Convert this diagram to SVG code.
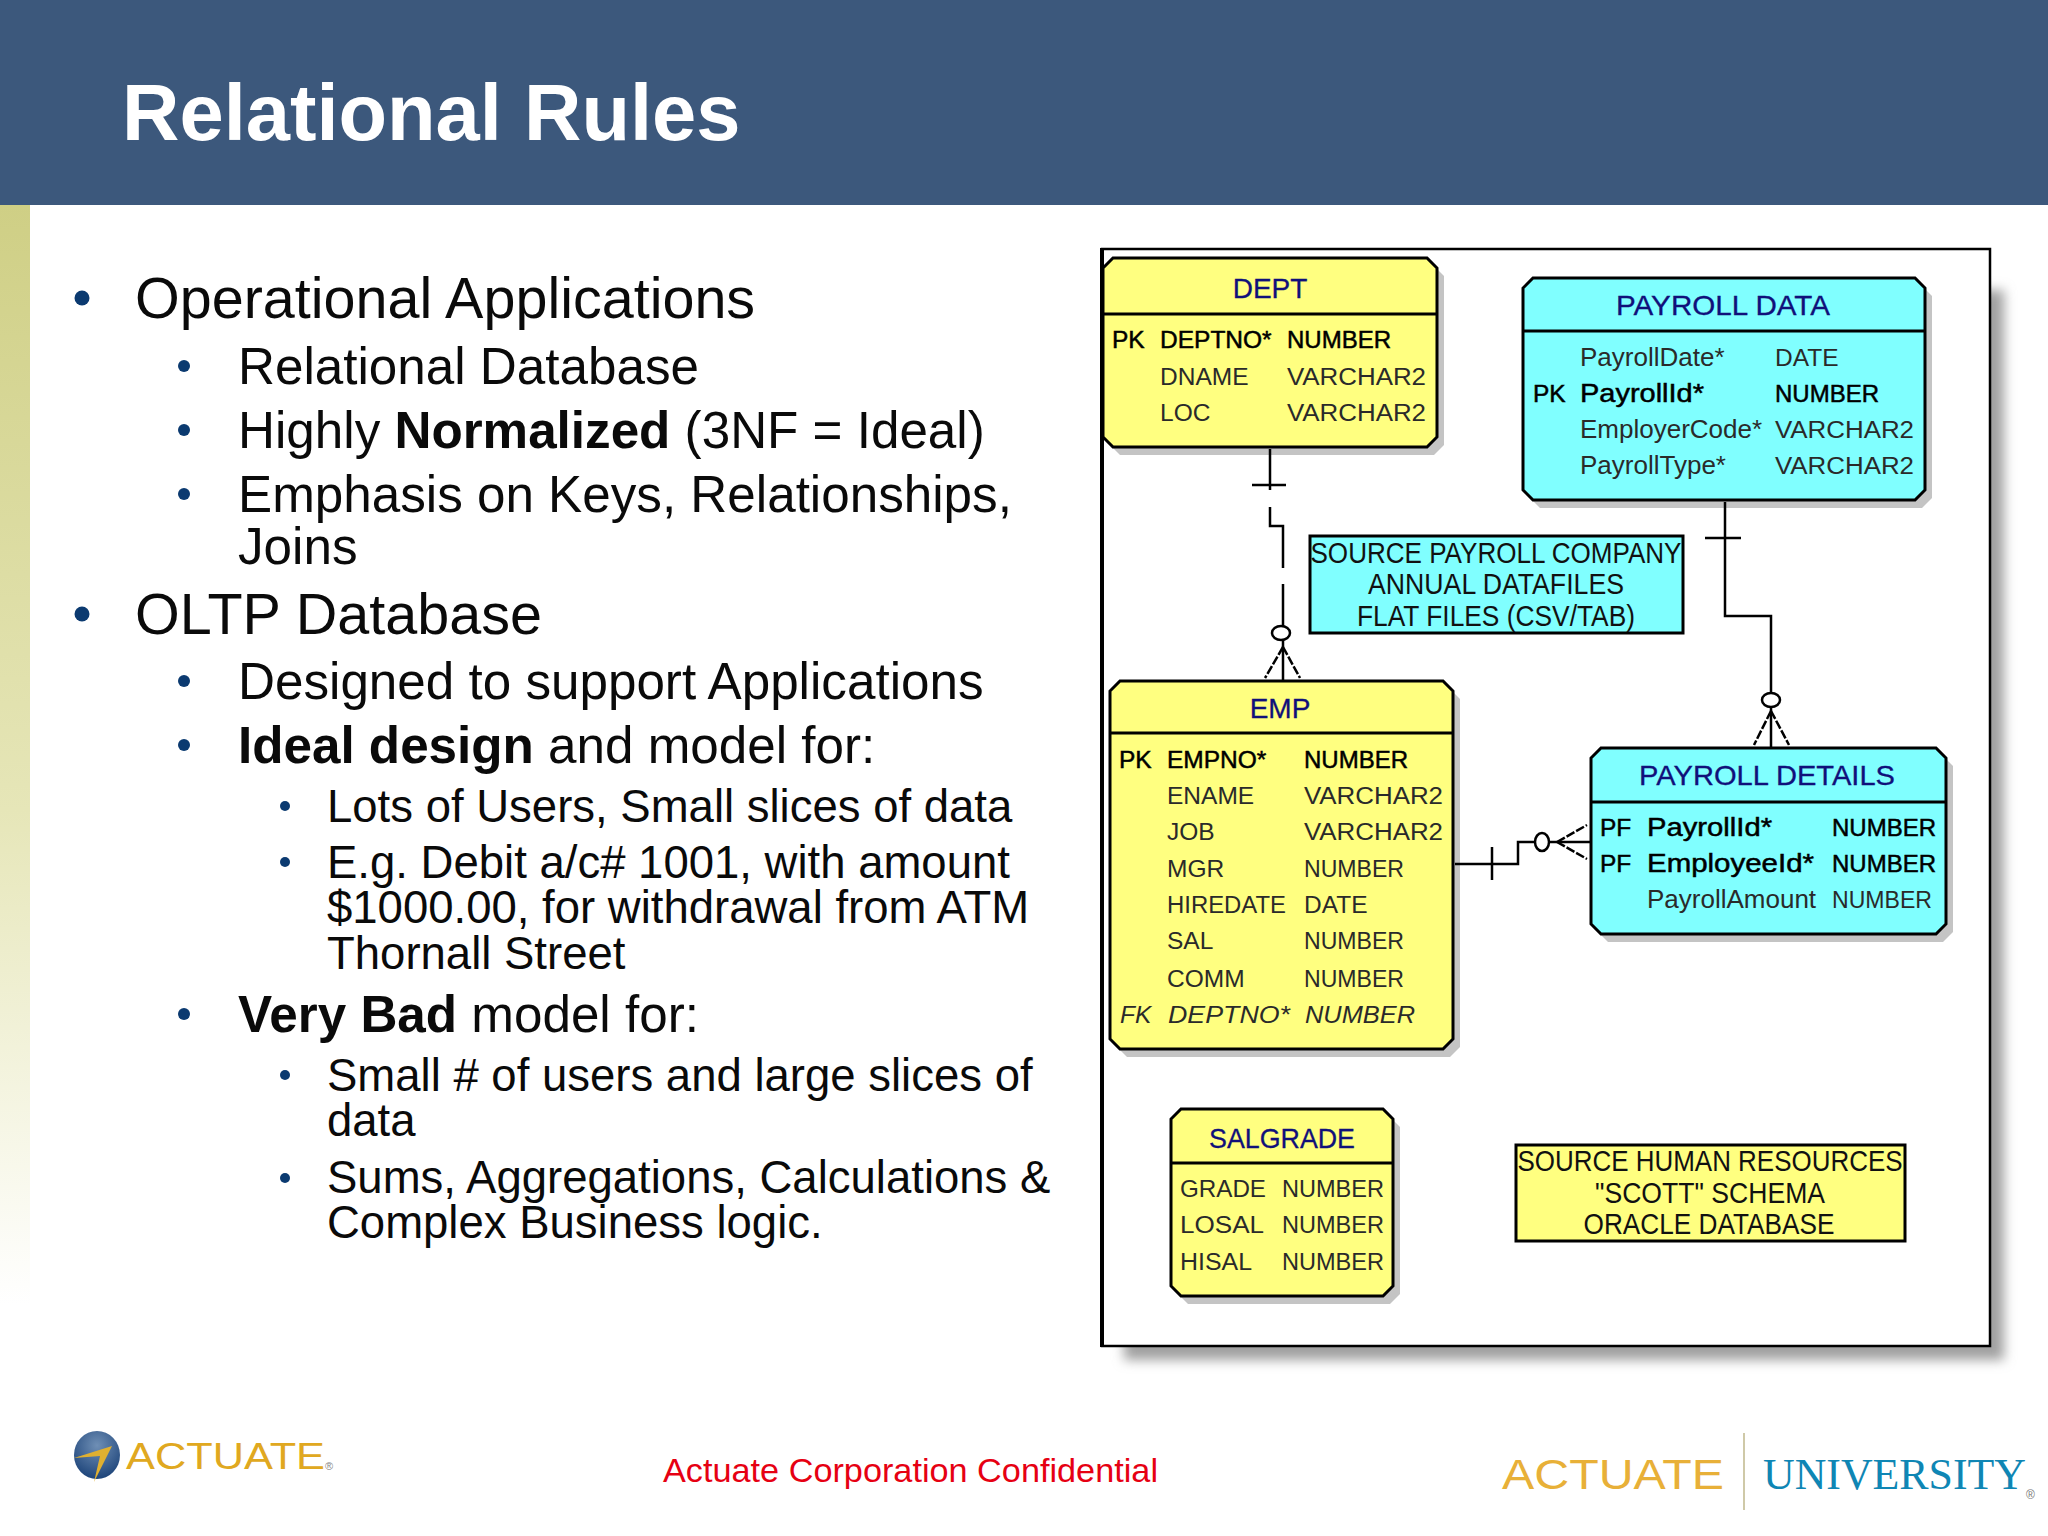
<svg xmlns="http://www.w3.org/2000/svg" width="2048" height="1536" viewBox="0 0 2048 1536">
<defs>
<linearGradient id="strip" x1="0" y1="0" x2="0" y2="1"><stop offset="0" stop-color="#cfcf85"/><stop offset=".55" stop-color="#e6e6b8"/><stop offset="1" stop-color="#ffffff"/></linearGradient>
<filter id="blur" x="-5%" y="-5%" width="110%" height="110%"><feGaussianBlur stdDeviation="6"/></filter>
<radialGradient id="globe" cx=".5" cy=".3" r=".8"><stop offset="0" stop-color="#6f8fb5"/><stop offset="1" stop-color="#123a72"/></radialGradient>
</defs>
<style>
text{font-family:"Liberation Sans",Arial,sans-serif}
.l1{font-size:57.5px;fill:#0a0a0a}
.l2{font-size:51.2px;fill:#0a0a0a}
.l3{font-size:45.5px;fill:#0a0a0a}
.bu{fill:#0b3a70}
.sh{fill:#c4c4c4}
.y{fill:#ffff80;stroke:#000;stroke-width:3}
.c{fill:#80ffff;stroke:#000;stroke-width:3}
.hd{stroke:#000;stroke-width:3}
.t{font-size:28px;fill:#10107a;text-anchor:middle;stroke:#10107a;stroke-width:.3}
.r{font-size:26px;fill:#2a2a2a}
.u{font-size:24.5px;fill:#2a2a2a}
.b{font-size:26px;fill:#000;stroke:#000;stroke-width:.5}
.bu2{font-size:24.5px;fill:#000;stroke:#000;stroke-width:.5}
.i{font-size:24.5px;fill:#2a2a2a;font-style:italic}
.n{font-size:29px;fill:#111;text-anchor:middle}
.ln{fill:none;stroke:#000;stroke-width:2.5}
.ci{fill:#fff;stroke:#000;stroke-width:2.5}
.ft{stroke-dasharray:9 2}
</style>
<rect width="2048" height="1536" fill="#fff"/>
<rect id="strip-bar" x="0" y="205" width="30" height="1100" fill="url(#strip)"/>
<g id="header"><rect width="2048" height="205" fill="#3c587c"/><text x="122" y="140" font-size="79.5" font-weight="bold" fill="#fff">Relational Rules</text></g>
<g id="bullets">
<circle class="bu" cx="82" cy="298" r="7.5"/><text class="l1" x="135" y="318">Operational Applications</text>
<circle class="bu" cx="184" cy="366" r="6"/><text class="l2" x="238" y="384">Relational Database</text>
<circle class="bu" cx="184" cy="430" r="6"/><text class="l2" x="238" y="448">Highly <tspan font-weight="bold">Normalized</tspan> (3NF = Ideal)</text>
<circle class="bu" cx="184" cy="494" r="6"/><text class="l2" x="238" y="512">Emphasis on Keys, Relationships,</text><text class="l2" x="238" y="564">Joins</text>
<circle class="bu" cx="82" cy="614" r="7.5"/><text class="l1" x="135" y="634">OLTP Database</text>
<circle class="bu" cx="184" cy="681" r="6"/><text class="l2" x="238" y="699">Designed to support Applications</text>
<circle class="bu" cx="184" cy="745" r="6"/><text class="l2" x="238" y="763"><tspan font-weight="bold">Ideal design</tspan> and model for:</text>
<circle class="bu" cx="285" cy="806" r="5"/><text class="l3" x="327" y="822">Lots of Users, Small slices of data</text>
<circle class="bu" cx="285" cy="862" r="5"/><text class="l3" x="327" y="878">E.g. Debit a/c# 1001, with amount</text><text class="l3" x="327" y="923">$1000.00, for withdrawal from ATM</text><text class="l3" x="327" y="969">Thornall Street</text>
<circle class="bu" cx="184" cy="1014" r="6"/><text class="l2" x="238" y="1032"><tspan font-weight="bold">Very Bad</tspan> model for:</text>
<circle class="bu" cx="285" cy="1075" r="5"/><text class="l3" x="327" y="1091">Small # of users and large slices of</text><text class="l3" x="327" y="1136">data</text>
<circle class="bu" cx="285" cy="1178" r="5"/><text class="l3" x="327" y="1193">Sums, Aggregations, Calculations &amp;</text><text class="l3" x="327" y="1238">Complex Business logic.</text>
</g>
<g id="frame">
<rect x="1124" y="290" width="880" height="1070" fill="#a0a0a0" filter="url(#blur)"/>
<rect x="1102" y="249" width="888" height="1097" fill="#fff" stroke="#000" stroke-width="2.5"/>
<rect x="1100" y="248" width="4" height="1099" fill="#000"/>
</g>
<g id="dept">
<polygon class="sh" transform="translate(7,8)" points="1113,258 1427,258 1437,268 1437,437 1427,447 1113,447 1103,437 1103,268"/>
<polygon class="y" points="1113,258 1427,258 1437,268 1437,437 1427,447 1113,447 1103,437 1103,268"/>
<path class="hd" d="M1103 314H1437"/>
<text class="t" x="1270" y="298">DEPT</text>
<text class="bu2" x="1112" y="348">PK</text><text class="bu2" x="1160" y="348">DEPTNO*</text><text class="bu2" x="1287" y="348" textLength="104" lengthAdjust="spacingAndGlyphs">NUMBER</text>
<text class="u" x="1160" y="385">DNAME</text><text class="u" x="1287" y="385" textLength="139" lengthAdjust="spacingAndGlyphs">VARCHAR2</text>
<text class="u" x="1160" y="421">LOC</text><text class="u" x="1287" y="421" textLength="139" lengthAdjust="spacingAndGlyphs">VARCHAR2</text>
</g>
<g id="payroll-data">
<polygon class="sh" transform="translate(7,8)" points="1533,278 1915,278 1925,288 1925,490 1915,500 1533,500 1523,490 1523,288"/>
<polygon class="c" points="1533,278 1915,278 1925,288 1925,490 1915,500 1533,500 1523,490 1523,288"/>
<path class="hd" d="M1523 331H1925"/>
<text class="t" x="1723" y="315" textLength="214" lengthAdjust="spacingAndGlyphs">PAYROLL DATA</text>
<text class="r" x="1580" y="366">PayrollDate*</text><text class="u" x="1775" y="366">DATE</text>
<text class="bu2" x="1533" y="402">PK</text><text class="b" x="1580" y="402" textLength="124" lengthAdjust="spacingAndGlyphs">PayrollId*</text><text class="bu2" x="1775" y="402" textLength="104" lengthAdjust="spacingAndGlyphs">NUMBER</text>
<text class="r" x="1580" y="438">EmployerCode*</text><text class="u" x="1775" y="438" textLength="139" lengthAdjust="spacingAndGlyphs">VARCHAR2</text>
<text class="r" x="1580" y="474">PayrollType*</text><text class="u" x="1775" y="474" textLength="139" lengthAdjust="spacingAndGlyphs">VARCHAR2</text>
</g>
<g id="note-payroll">
<rect class="c" x="1310" y="536" width="373" height="97"/>
<text class="n" x="1496" y="563" textLength="371" lengthAdjust="spacingAndGlyphs">SOURCE PAYROLL COMPANY</text>
<text class="n" x="1496" y="594" textLength="256" lengthAdjust="spacingAndGlyphs">ANNUAL DATAFILES</text>
<text class="n" x="1496" y="626" textLength="278" lengthAdjust="spacingAndGlyphs">FLAT FILES (CSV/TAB)</text>
</g>
<g id="emp">
<polygon class="sh" transform="translate(7,8)" points="1120,681 1443,681 1453,691 1453,1039 1443,1049 1120,1049 1110,1039 1110,691"/>
<polygon class="y" points="1120,681 1443,681 1453,691 1453,1039 1443,1049 1120,1049 1110,1039 1110,691"/>
<path class="hd" d="M1110 733H1453"/>
<text class="t" x="1280" y="718">EMP</text>
<text class="bu2" x="1119" y="768">PK</text><text class="bu2" x="1167" y="768">EMPNO*</text><text class="bu2" x="1304" y="768" textLength="104" lengthAdjust="spacingAndGlyphs">NUMBER</text>
<text class="u" x="1167" y="804">ENAME</text><text class="u" x="1304" y="804" textLength="139" lengthAdjust="spacingAndGlyphs">VARCHAR2</text>
<text class="u" x="1167" y="840">JOB</text><text class="u" x="1304" y="840" textLength="139" lengthAdjust="spacingAndGlyphs">VARCHAR2</text>
<text class="u" x="1167" y="877">MGR</text><text class="u" x="1304" y="877" textLength="100" lengthAdjust="spacingAndGlyphs">NUMBER</text>
<text class="u" x="1167" y="913" textLength="119" lengthAdjust="spacingAndGlyphs">HIREDATE</text><text class="u" x="1304" y="913">DATE</text>
<text class="u" x="1167" y="949">SAL</text><text class="u" x="1304" y="949" textLength="100" lengthAdjust="spacingAndGlyphs">NUMBER</text>
<text class="u" x="1167" y="987">COMM</text><text class="u" x="1304" y="987" textLength="100" lengthAdjust="spacingAndGlyphs">NUMBER</text>
<text class="i" x="1120" y="1023">FK</text><text class="i" x="1168" y="1023" textLength="122" lengthAdjust="spacingAndGlyphs">DEPTNO*</text><text class="i" x="1305" y="1023" textLength="110" lengthAdjust="spacingAndGlyphs">NUMBER</text>
</g>
<g id="payroll-details">
<polygon class="sh" transform="translate(7,8)" points="1601,748 1936,748 1946,758 1946,924 1936,934 1601,934 1591,924 1591,758"/>
<polygon class="c" points="1601,748 1936,748 1946,758 1946,924 1936,934 1601,934 1591,924 1591,758"/>
<path class="hd" d="M1591 802H1946"/>
<text class="t" x="1767" y="785" textLength="256" lengthAdjust="spacingAndGlyphs">PAYROLL DETAILS</text>
<text class="bu2" x="1600" y="836">PF</text><text class="b" x="1647" y="836" textLength="125" lengthAdjust="spacingAndGlyphs">PayrollId*</text><text class="bu2" x="1832" y="836" textLength="104" lengthAdjust="spacingAndGlyphs">NUMBER</text>
<text class="bu2" x="1600" y="872">PF</text><text class="b" x="1647" y="872" textLength="167" lengthAdjust="spacingAndGlyphs">EmployeeId*</text><text class="bu2" x="1832" y="872" textLength="104" lengthAdjust="spacingAndGlyphs">NUMBER</text>
<text class="r" x="1647" y="908">PayrollAmount</text><text class="u" x="1832" y="908" textLength="100" lengthAdjust="spacingAndGlyphs">NUMBER</text>
</g>
<g id="salgrade">
<polygon class="sh" transform="translate(7,8)" points="1181,1109 1383,1109 1393,1119 1393,1286 1383,1296 1181,1296 1171,1286 1171,1119"/>
<polygon class="y" points="1181,1109 1383,1109 1393,1119 1393,1286 1383,1296 1181,1296 1171,1286 1171,1119"/>
<path class="hd" d="M1171 1163H1393"/>
<text class="t" x="1282" y="1148" textLength="146" lengthAdjust="spacingAndGlyphs">SALGRADE</text>
<text class="u" x="1180" y="1197" textLength="86" lengthAdjust="spacingAndGlyphs">GRADE</text><text class="u" x="1282" y="1197" textLength="102" lengthAdjust="spacingAndGlyphs">NUMBER</text>
<text class="u" x="1180" y="1233" textLength="84" lengthAdjust="spacingAndGlyphs">LOSAL</text><text class="u" x="1282" y="1233" textLength="102" lengthAdjust="spacingAndGlyphs">NUMBER</text>
<text class="u" x="1180" y="1270" textLength="72" lengthAdjust="spacingAndGlyphs">HISAL</text><text class="u" x="1282" y="1270" textLength="102" lengthAdjust="spacingAndGlyphs">NUMBER</text>
</g>
<g id="note-hr">
<rect class="y" x="1516" y="1145" width="389" height="96"/>
<text class="n" x="1710" y="1171" textLength="385" lengthAdjust="spacingAndGlyphs">SOURCE HUMAN RESOURCES</text>
<text class="n" x="1710" y="1203" textLength="230" lengthAdjust="spacingAndGlyphs">"SCOTT" SCHEMA</text>
<text class="n" x="1709" y="1234" textLength="251" lengthAdjust="spacingAndGlyphs">ORACLE DATABASE</text>
</g>
<g id="connectors">
<path class="ln" d="M1270 449V490M1270 507V526H1283V568M1283 584V681"/>
<path class="ln" d="M1252 485H1286"/>
<path class="ln ft" d="M1283 647L1265 678M1283 647L1300 678"/>
<ellipse class="ci" cx="1281" cy="633" rx="9" ry="7"/>
<path class="ln" d="M1725 502V616H1771V748"/>
<path class="ln" d="M1705 538H1741"/>
<path class="ln ft" d="M1771 711L1754 745M1771 711L1789 745"/>
<ellipse class="ci" cx="1771" cy="700" rx="9" ry="7"/>
<path class="ln" d="M1455 864H1518V842H1591"/>
<path class="ln" d="M1492 847V880"/>
<path class="ln ft" d="M1557 842L1587 825M1557 842L1587 859"/>
<ellipse class="ci" cx="1542" cy="842" rx="7" ry="9"/>
</g>
<g id="footer">
<ellipse cx="97" cy="1455" rx="23" ry="24" fill="url(#globe)"/>
<path d="M74 1458L112 1446L94 1482L100 1456Z" fill="#e0b030"/>
<text x="126" y="1469" font-size="37" fill="#e0a820" textLength="199" lengthAdjust="spacingAndGlyphs">ACTUATE</text>
<text x="325" y="1470" font-size="11" fill="#888">®</text>
<text x="663" y="1482" font-size="34" fill="#e60012" textLength="495" lengthAdjust="spacingAndGlyphs">Actuate Corporation Confidential</text>
<text x="1502" y="1489" font-size="42" fill="#e8b038" textLength="222" lengthAdjust="spacingAndGlyphs">ACTUATE</text>
<rect x="1743" y="1433" width="2" height="77" fill="#cfc9a8"/>
<text x="1763" y="1489" font-size="45" fill="#0f86b4" style="font-family:'Liberation Serif',serif" textLength="263" lengthAdjust="spacingAndGlyphs">UNIVERSITY</text>
<text x="2026" y="1499" font-size="12" fill="#777">®</text>
</g>
</svg>
